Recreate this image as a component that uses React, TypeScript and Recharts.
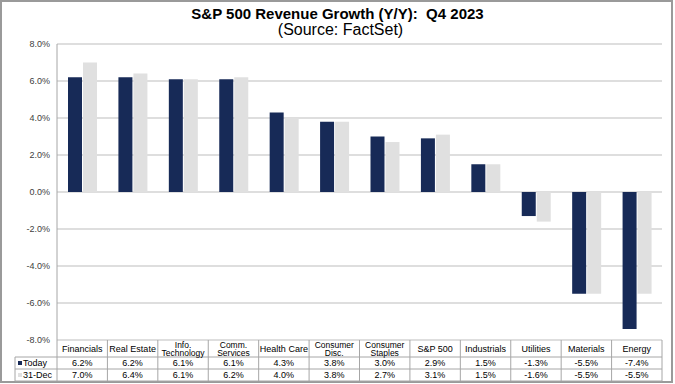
import React from "react";
import { BarChart, Bar, XAxis, YAxis, CartesianGrid } from "recharts";

// S&P 500 revenue growth by sector, Q4 2023 (FactSet)
const sectors = [
	"Financials",
	"Real Estate",
	"Info.|Technology",
	"Comm.|Services",
	"Health Care",
	"Consumer|Disc.",
	"Consumer|Staples",
	"S&P 500",
	"Industrials",
	"Utilities",
	"Materials",
	"Energy",
];
const today = [6.2, 6.2, 6.1, 6.1, 4.3, 3.8, 3.0, 2.9, 1.5, -1.3, -5.5, -7.4];
const dec31 = [7.0, 6.4, 6.1, 6.2, 4.0, 3.8, 2.7, 3.1, 1.5, -1.6, -5.5, -5.5];
const yTicks = [-8, -6, -4, -2, 0, 2, 4, 6, 8];

const data = sectors.map((name, i) => ({ name, today: today[i], dec31: dec31[i] }));

const W = 675;
const H = 384;
const LEFT = 57;
const RIGHT = 13;
const BAND = (W - LEFT - RIGHT) / sectors.length;
const NAVY = "#172A57";
const LIGHT = "#E0E0E0";
const LINE = "#A6A6A6";
const FONT = "Arial, 'Liberation Sans', sans-serif";

const fmt = (v: number) => `${v.toFixed(1)}%`;

// x-axis tick draws one column of the data table under the chart
const TableTick = (props: any) => {
	const { x, y, payload, index } = props;
	const left = x - BAND / 2;
	const right = x + BAND / 2;
	const lines = String(payload.value).split("|");
	const r1 = y + 17;
	const r2 = y + 29;
	const r3 = y + 41;
	return (
		<g fontFamily={FONT} fontSize={9} fill="#000">
			<line x1={right} y1={y} x2={right} y2={r3} stroke={LINE} />
			<line x1={left} y1={r1} x2={right} y2={r1} stroke={LINE} />
			<line x1={left} y1={r2} x2={right} y2={r2} stroke={LINE} />
			<line x1={left} y1={r3} x2={right} y2={r3} stroke={LINE} />
			{lines.length === 1 ? (
				<text x={x} y={y + 12} textAnchor="middle">{lines[0]}</text>
			) : (
				<>
					<text x={x} y={y + 7.5} textAnchor="middle" fontSize={8.5}>{lines[0]}</text>
					<text x={x} y={y + 16} textAnchor="middle" fontSize={8.5}>{lines[1]}</text>
				</>
			)}
			<text x={x} y={r1 + 9} textAnchor="middle">{fmt(today[index])}</text>
			<text x={x} y={r2 + 9} textAnchor="middle">{fmt(dec31[index])}</text>
			{index === 0 && (
				<>
					<line x1={left} y1={y} x2={left} y2={r3} stroke={LINE} />
					<line x1={15} y1={r1} x2={left} y2={r1} stroke={LINE} />
					<line x1={15} y1={r2} x2={left} y2={r2} stroke={LINE} />
					<line x1={15} y1={r3} x2={left} y2={r3} stroke={LINE} />
					<line x1={15} y1={r1} x2={15} y2={r3} stroke={LINE} />
					<rect x={18} y={r1 + 4} width={4} height={4} fill={NAVY} />
					<text x={23} y={r1 + 9}>Today</text>
					<rect x={18} y={r2 + 4} width={4} height={4} fill={LIGHT} />
					<text x={23} y={r2 + 9}>31-Dec</text>
				</>
			)}
		</g>
	);
};

export default function App() {
	return (
		<div style={{ position: "absolute", left: 0, top: 0, width: W, height: H, background: "#fff" }}>
			<div
				style={{
					position: "absolute",
					left: 0,
					top: 0,
					width: 673,
					height: 383,
					boxSizing: "border-box",
					border: "2px solid #9a9a9a",
				}}
			/>
			<div
				style={{
					position: "absolute",
					left: 0,
					top: 5,
					width: W,
					textAlign: "center",
					fontFamily: FONT,
					color: "#000",
				}}
			>
				<div style={{ fontSize: 15, fontWeight: "bold", lineHeight: "17px" }}>
					S&amp;P 500 Revenue Growth (Y/Y):&nbsp; Q4 2023
				</div>
				<div style={{ fontSize: 16, lineHeight: "16px", paddingLeft: 6 }}>(Source: FactSet)</div>
			</div>
			<BarChart
				width={W}
				height={H}
				data={data}
				margin={{ top: 44, right: RIGHT, left: 0, bottom: 0 }}
				barSize={14}
				barGap={1}
				style={{ position: "absolute", left: 0, top: 0 }}
			>
				<CartesianGrid vertical={false} stroke="#BDBDBD" />
				<XAxis
					dataKey="name"
					interval={0}
					height={44}
					axisLine={false}
					tickLine={false}
					tickSize={0}
					tickMargin={0}
					tick={<TableTick />}
				/>
				<YAxis
					width={LEFT}
					domain={[-8, 8]}
					ticks={yTicks}
					tickFormatter={fmt}
					axisLine={{ stroke: LINE }}
					tickLine={false}
					tickSize={0}
					tickMargin={7}
					tick={{ fontSize: 9, fill: "#404040", fontFamily: FONT }}
				/>
				<Bar dataKey="today" fill={NAVY} isAnimationActive={false} />
				<Bar dataKey="dec31" fill={LIGHT} isAnimationActive={false} />
			</BarChart>
		</div>
	);
}
